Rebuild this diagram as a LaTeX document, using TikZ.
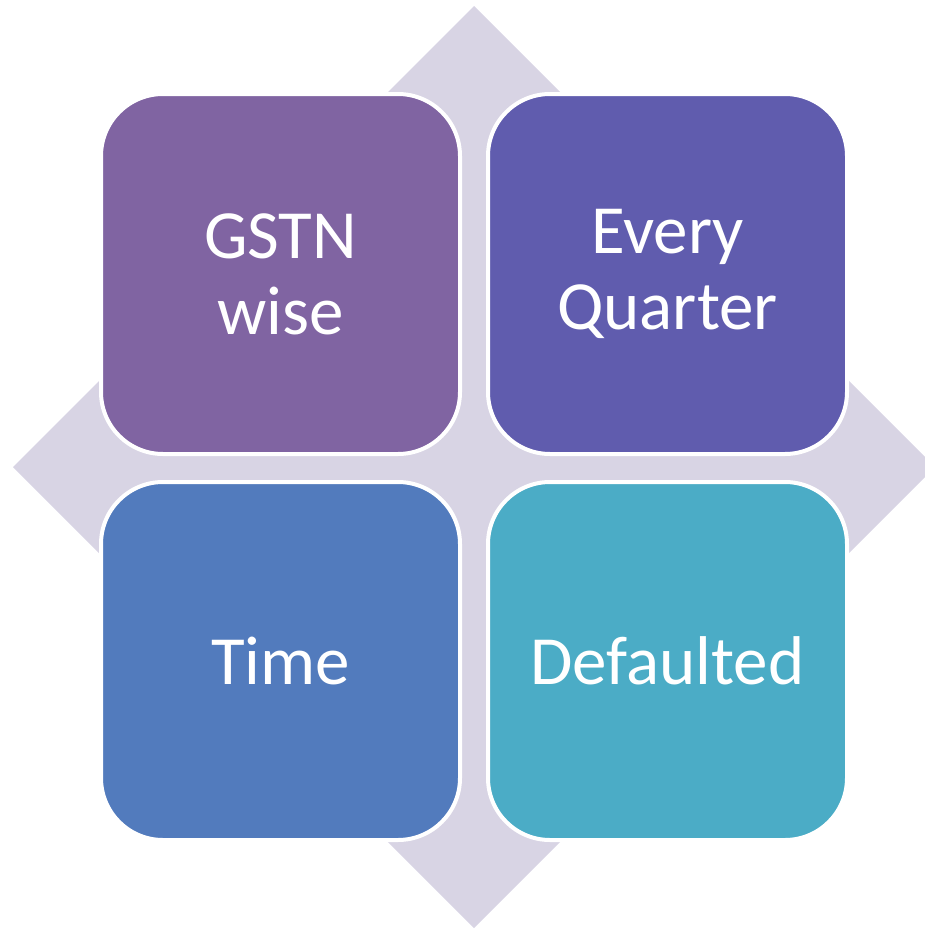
\documentclass[tikz,border=0pt]{standalone}
\usepackage{fontspec}
\setmainfont{Carlito}
\definecolor{diam}{RGB}{216,212,228}
\definecolor{cTL}{RGB}{128,100,162}
\definecolor{cTR}{RGB}{96,92,174}
\definecolor{cBL}{RGB}{82,123,189}
\definecolor{cBR}{RGB}{75,172,198}
\begin{document}
\begin{tikzpicture}[x=1pt,y=-1pt,
  tile/.style={draw=white,line width=4pt,rounded corners=62pt},
  lbl/.style={text=white,font=\fontsize{69}{76}\selectfont,align=center,inner sep=0pt}]
\useasboundingbox (0,0) rectangle (925,929);
\begin{scope}
\clip (0,0) rectangle (925,929);
\fill[diam] (474,6) -- (935,467) -- (474,928) -- (13,467) -- cycle;
\end{scope}
\path[tile,fill=cTL] (101,94) rectangle (460,454);
\path[tile,fill=cTR] (488,94) rectangle (847,454);
\path[tile,fill=cBL] (101,482) rectangle (460,840);
\path[tile,fill=cBR] (488,482) rectangle (847,840);
\node[lbl] (tl) at (280.5,274) {GSTN\\wise};
\node[lbl] (tr) at (667.5,274) {Every\\Quarter};
\node[lbl] (bl) at (280.5,661) {Time};
\node[lbl] (br) at (667.5,661) {Defaulted};
\end{tikzpicture}
\end{document}
